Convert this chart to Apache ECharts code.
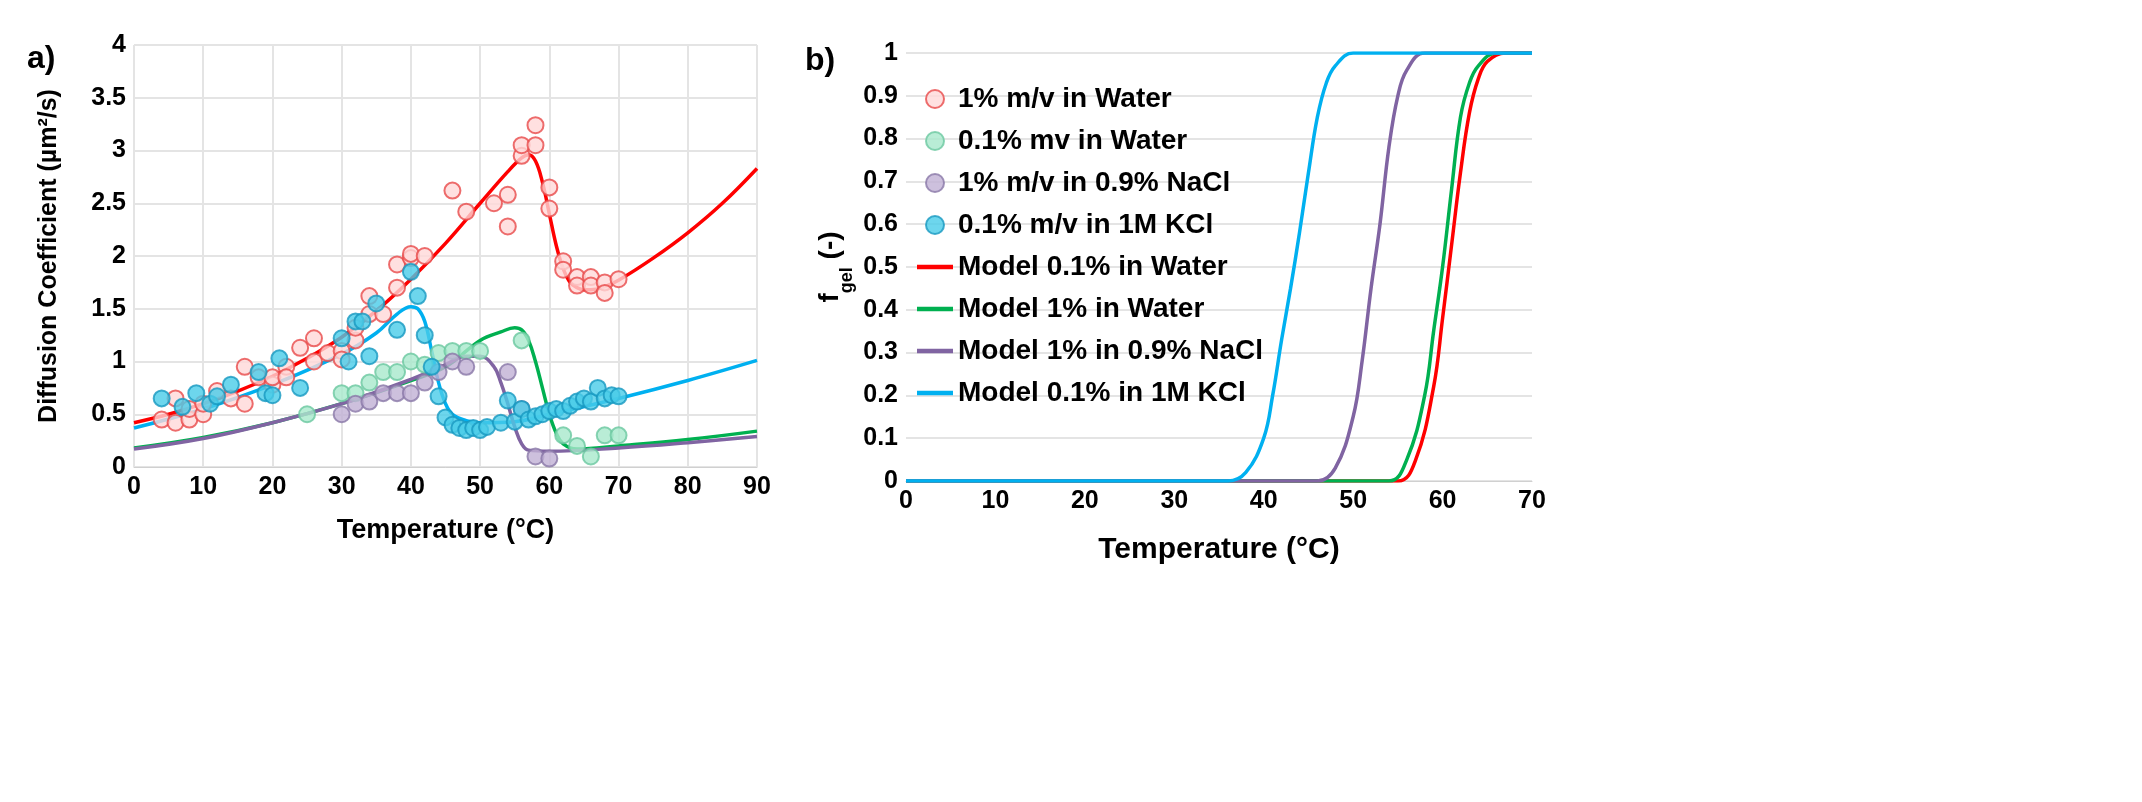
<!DOCTYPE html>
<html>
<head>
<meta charset="utf-8">
<script src="https://cdn.jsdelivr.net/npm/echarts@6/dist/echarts.min.js"></script>
<style>html,body{margin:0;padding:0;background:#fff}#chart{width:2142px;height:802px}</style>
</head>
<body>
<div id="chart"></div>
<script>
// 散点数据 (a)
var red1Water = [[4,0.45],[6,0.42],[6,0.65],[8,0.45],[8,0.55],[10,0.5],[10,0.6],[12,0.72],[14,0.65],[16,0.95],[16,0.6],[18,0.85],[20,0.78],[20,0.85],[22,0.95],[22,0.85],[24,1.13],[26,1.22],[26,1.0],[28,1.08],[30,1.1],[30,1.02],[32,1.2],[32,1.32],[34,1.45],[34,1.62],[36,1.45],[38,1.7],[38,1.92],[40,1.98],[40,2.02],[42,2.0],[46,2.62],[48,2.42],[52,2.5],[54,2.28],[54,2.58],[56,2.95],[56,3.05],[58,3.05],[58,3.24],[60,2.65],[60,2.45],[62,1.95],[62,1.87],[64,1.8],[64,1.72],[66,1.8],[66,1.72],[68,1.75],[68,1.65],[70,1.78]];
var green01Water = [[25,0.5],[30,0.7],[32,0.7],[34,0.8],[36,0.9],[38,0.9],[40,1.0],[42,0.97],[44,1.08],[46,1.1],[48,1.1],[50,1.1],[56,1.2],[62,0.3],[64,0.2],[66,0.1],[68,0.3],[70,0.3]];
var purpleNaCl = [[30,0.5],[32,0.6],[34,0.62],[36,0.7],[38,0.7],[40,0.7],[42,0.8],[44,0.9],[46,1.0],[48,0.95],[54,0.9],[56,0.55],[58,0.1],[60,0.08]];
var cyanKCl = [[4,0.65],[7,0.57],[9,0.7],[11,0.6],[12,0.67],[14,0.78],[18,0.9],[19,0.7],[20,0.68],[21,1.03],[24,0.75],[30,1.22],[31,1.0],[32,1.38],[33,1.38],[34,1.05],[35,1.55],[38,1.3],[40,1.85],[41,1.62],[42,1.25],[43,0.95],[44,0.67],[45,0.47],[46,0.4],[47,0.37],[48,0.35],[49,0.37],[50,0.35],[51,0.38],[53,0.42],[54,0.63],[55,0.43],[56,0.55],[57,0.45],[58,0.48],[59,0.5],[60,0.53],[61,0.55],[62,0.53],[63,0.58],[64,0.62],[65,0.65],[66,0.62],[67,0.75],[68,0.65],[69,0.68],[70,0.67]];
// 模型曲线 (a)
var redFitA = [[0,0.42],[5,0.5],[10,0.6],[15,0.72],[20,0.86],[25,1.03],[30,1.23],[35,1.48],[40,1.78],[45,2.12],[50,2.5],[54,2.8],[56,2.93],[57,2.96],[58,2.9],[59,2.7],[60,2.4],[61,2.1],[62,1.88],[63,1.75],[64,1.7],[65,1.68],[66,1.68],[68,1.71],[70,1.77],[75,1.98],[80,2.22],[85,2.5],[90,2.83]];
var blueFitA = [[0,0.37],[10,0.55],[20,0.78],[30,1.07],[35,1.27],[38,1.45],[40,1.52],[41,1.5],[42,1.38],[43,1.1],[44,0.8],[45,0.6],[46,0.5],[48,0.44],[50,0.42],[55,0.43],[60,0.5],[70,0.65],[80,0.82],[90,1.01]];
var greenFitA = [[0,0.18],[10,0.28],[20,0.42],[30,0.6],[40,0.82],[45,0.95],[50,1.2],[53,1.28],[55,1.32],[56,1.3],[57,1.2],[58,1.0],[59,0.75],[60,0.5],[61,0.32],[62,0.22],[64,0.17],[70,0.2],[80,0.26],[90,0.34]];
var purpleFitA = [[0,0.17],[10,0.27],[20,0.42],[30,0.6],[40,0.83],[45,0.97],[48,1.05],[50,1.05],[52,0.95],[53,0.8],[54,0.6],[55,0.38],[56,0.22],[57,0.16],[60,0.15],[70,0.18],[80,0.23],[90,0.29]];
// f_gel 曲线 (b)
var fgelRed = [[0,0],[55,0],[57,0.05],[59,0.22],[60,0.38],[61,0.55],[62,0.72],[63,0.86],[64,0.94],[65,0.98],[67,1],[70,1]];
var fgelGreen = [[0,0],[54,0],[56,0.05],[58,0.2],[59,0.35],[60,0.5],[61,0.68],[62,0.85],[63,0.93],[64,0.97],[66,1],[70,1]];
var fgelPurple = [[0,0],[46,0],[48,0.03],[50,0.15],[51,0.28],[52,0.45],[53,0.6],[54,0.78],[55,0.9],[56,0.96],[58,1],[70,1]];
var fgelBlue = [[0,0],[36,0],[38,0.02],[40,0.1],[41,0.2],[42,0.33],[43,0.45],[44,0.58],[45,0.72],[46,0.85],[47,0.93],[48,0.97],[50,1],[70,1]];

var font = 'Arial, "Liberation Sans", sans-serif';
var axisLbl = {fontFamily: font, fontWeight: 'bold', fontSize: 25, color: '#000'};
var grid = {lineStyle: {color: '#e4e4e4', width: 2}};
var lineIcon = 'path://M0,0H40V5H0Z';

function dots(name, data, fill, border) {
	return {name: name, type: 'scatter', xAxisIndex: 0, yAxisIndex: 0, data: data, symbolSize: 16,
		itemStyle: {color: fill, borderColor: border, borderWidth: 2}, z: 3};
}
function curve(name, data, color, ax) {
	return {name: name, type: 'line', xAxisIndex: ax, yAxisIndex: ax, data: data, smooth: 0.4, symbol: 'none',
		lineStyle: {color: color, width: 3.5}, itemStyle: {color: color}, z: 2};
}

var option = {
	animation: false,
	title: [
		{text: 'a)', left: 22, top: 38, textStyle: {fontFamily: font, fontWeight: 'bold', fontSize: 32, color: '#000'}},
		{text: 'b)', left: 800, top: 40, textStyle: {fontFamily: font, fontWeight: 'bold', fontSize: 32, color: '#000'}}
	],
	grid: [
		{left: 134, right: 1385, top: 45, bottom: 335},
		{left: 906, right: 610, top: 53, bottom: 321}
	],
	legend: {
		left: 912, top: 80, orient: 'vertical', itemGap: 14, itemWidth: 36, itemHeight: 18,
		textStyle: {fontFamily: font, fontWeight: 'bold', fontSize: 28, color: '#000'},
		data: [
			{name: '1% m/v in Water', icon: 'circle'},
			{name: '0.1% mv in Water', icon: 'circle'},
			{name: '1% m/v in 0.9% NaCl', icon: 'circle'},
			{name: '0.1% m/v in 1M KCl', icon: 'circle'},
			{name: 'Model 0.1% in Water', icon: lineIcon},
			{name: 'Model 1% in Water', icon: lineIcon},
			{name: 'Model 1% in 0.9% NaCl', icon: lineIcon},
			{name: 'Model 0.1% in 1M KCl', icon: lineIcon}
		]
	},
	xAxis: [
		{type: 'value', gridIndex: 0, min: 0, max: 90, interval: 10, name: 'Temperature (°C)', nameLocation: 'middle', nameGap: 50,
			nameTextStyle: {fontFamily: font, fontWeight: 'bold', fontSize: 27, color: '#000'},
			axisLabel: axisLbl, axisLine: {lineStyle: {color: '#d0d0d0'}}, axisTick: {show: false}, splitLine: grid},
		{type: 'value', gridIndex: 1, min: 0, max: 70, interval: 10, name: 'Temperature (°C)', nameLocation: 'middle', nameGap: 54,
			nameTextStyle: {fontFamily: font, fontWeight: 'bold', fontSize: 30, color: '#000'},
			axisLabel: axisLbl, axisLine: {lineStyle: {color: '#d0d0d0'}}, axisTick: {show: false}, splitLine: {show: false}}
	],
	yAxis: [
		{type: 'value', gridIndex: 0, min: 0, max: 4, interval: 0.5, name: 'Diffusion Coefficient (µm²/s)', nameLocation: 'middle', nameGap: 72,
			nameTextStyle: {fontFamily: font, fontWeight: 'bold', fontSize: 25, color: '#000', padding: [0, 0, 0, 0]},
			axisLabel: axisLbl, axisLine: {show: false}, axisTick: {show: false}, splitLine: grid},
		{type: 'value', gridIndex: 1, min: 0, max: 1, interval: 0.1, name: '{b|f}{s|gel}{b| (-)}', nameLocation: 'middle', nameGap: 62,
			nameTextStyle: {rich: {b: {fontFamily: font, fontWeight: 'bold', fontSize: 28, color: '#000'},
				s: {fontFamily: font, fontWeight: 'bold', fontSize: 18, color: '#000', verticalAlign: 'bottom', padding: [0, 0, -12, 0]}}},
			axisLabel: axisLbl, axisLine: {show: false}, axisTick: {show: false}, splitLine: grid}
	],
	series: [
		curve('redA', redFitA, '#ff0000', 0),
		curve('blueA', blueFitA, '#00b0f0', 0),
		curve('greenA', greenFitA, '#00b050', 0),
		curve('purpleA', purpleFitA, '#8064a2', 0),
		dots('1% m/v in Water', red1Water, '#ffd8d8', '#e84a4a'),
		dots('0.1% mv in Water', green01Water, '#a8e8cc', '#6cc8a0'),
		dots('1% m/v in 0.9% NaCl', purpleNaCl, '#c0b0d4', '#8a78a8'),
		dots('0.1% m/v in 1M KCl', cyanKCl, '#48cce8', '#1898c0'),
		curve('Model 0.1% in Water', fgelRed, '#ff0000', 1),
		curve('Model 1% in Water', fgelGreen, '#00b050', 1),
		curve('Model 1% in 0.9% NaCl', fgelPurple, '#8064a2', 1),
		curve('Model 0.1% in 1M KCl', fgelBlue, '#00b0f0', 1)
	]
};
var chart = echarts.init(document.getElementById('chart'));
chart.setOption(option);
</script>
</body>
</html>
